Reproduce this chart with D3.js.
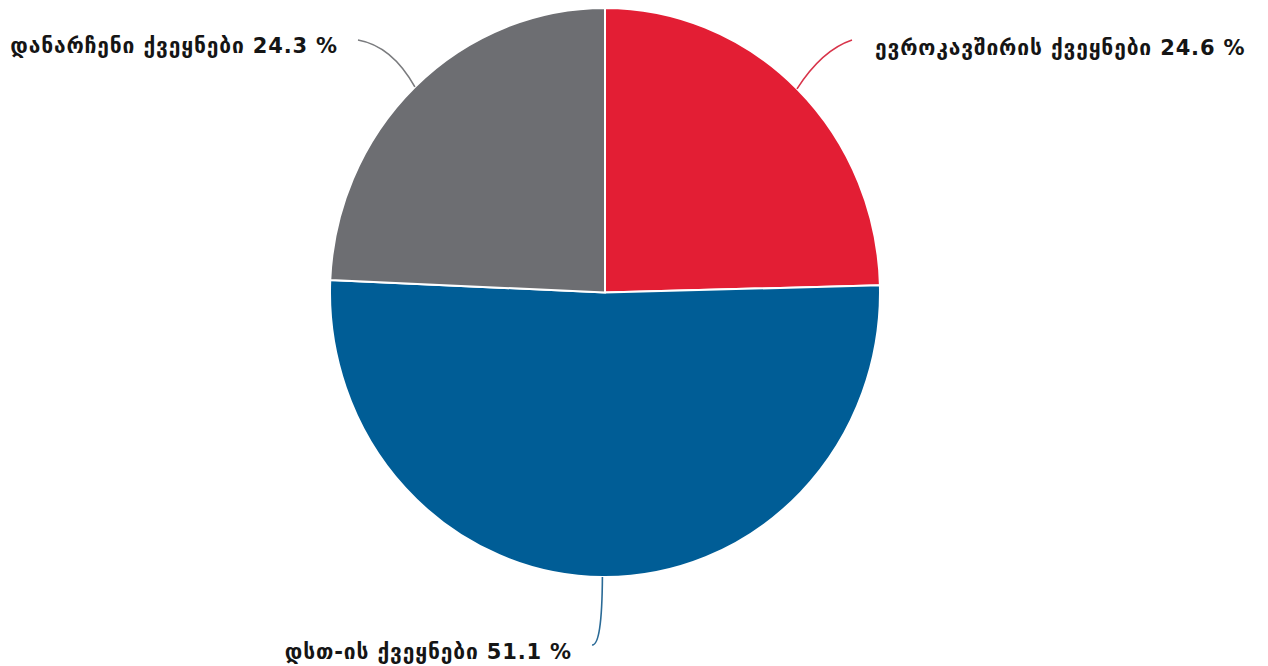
<!DOCTYPE html>
<html>
<head>
<meta charset="utf-8">
<script src="https://cdn.jsdelivr.net/npm/d3@7"></script>
<style>
  body { margin: 0; background: #fff; }
  text { font-family: "DejaVu Sans", sans-serif; font-weight: bold; }
</style>
</head>
<body>
<div id="chart"></div>
<script>
const categories = ['ევროკავშირის ქვეყნები', 'დსთ-ის ქვეყნები', 'დანარჩენი ქვეყნები'];
const shares = [24.6, 51.1, 24.3];
const colors = ['#e31e34', '#005d96', '#6d6e72'];
const lineColors = ['#d8344a', '#2a6a96', '#7a7b7e'];

const width = 1268;
const height = 666;
const cx = 605, cy = 292.5;
const rx = 275, ry = 284.5;

const svg = d3.select('#chart')
    .append('svg')
    .attr('width', width)
    .attr('height', height);

const data = categories.map((name, i) => ({ name, value: shares[i], color: colors[i], line: lineColors[i] }));

const pie = d3.pie().value(d => d.value).sort(null);
const arcs = pie(data);

const arc = d3.arc().innerRadius(0).outerRadius(rx);

// ellipse: draw on a circle and stretch vertically
svg.append('g')
    .attr('transform', `translate(${cx},${cy}) scale(1,${ry / rx})`)
    .selectAll('path')
    .data(arcs)
    .join('path')
    .attr('d', arc)
    .attr('fill', d => d.data.color)
    .attr('stroke', '#fff')
    .attr('stroke-width', 2)
    .attr('vector-effect', 'non-scaling-stroke');

// label layout per slice: end of leader, control point, text anchor
const layout = [
    { end: [852, 40], ctrl: [822, 50], tx: 875, ty: 55, anchor: 'start' },
    { end: [592, 645], ctrl: [602, 646], tx: 572, ty: 659, anchor: 'end' },
    { end: [358, 40], ctrl: [392, 46], tx: 338, ty: 53, anchor: 'end' }
];

arcs.forEach((d, i) => {
    const mid = (d.startAngle + d.endAngle) / 2;
    const sx = cx + rx * Math.sin(mid);
    const sy = cy - ry * Math.cos(mid);
    const L = layout[i];

    svg.append('path')
        .attr('d', `M${sx},${sy} Q${L.ctrl[0]},${L.ctrl[1]} ${L.end[0]},${L.end[1]}`)
        .attr('fill', 'none')
        .attr('stroke', d.data.line)
        .attr('stroke-width', 1.6);

    svg.append('text')
        .attr('x', L.tx)
        .attr('y', L.ty)
        .attr('text-anchor', L.anchor)
        .attr('font-size', 21)
        .attr('letter-spacing', 0.85)
        .attr('fill', '#151515')
        .text(`${d.data.name} ${d.data.value.toFixed(1)} %`);
});
</script>
</body>
</html>
